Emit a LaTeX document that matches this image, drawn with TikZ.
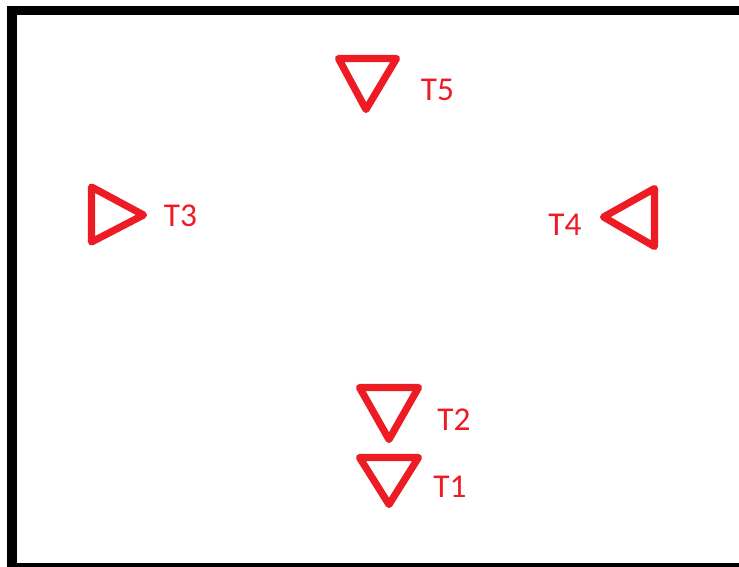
\documentclass[tikz,border=0pt]{standalone}
\usepackage{fontspec}
\setmainfont{Carlito}
\definecolor{pred}{HTML}{ED1C24}
\begin{document}
\begin{tikzpicture}[x=0.75pt,y=-0.75pt,
  tri/.style={draw=pred,line width=5.4pt,line join=round,line cap=round},
  lbl/.style={text=pred,font=\fontsize{25}{25}\selectfont,inner sep=0pt,anchor=center},
  frame/.style={draw=black,line width=7pt}]
\useasboundingbox (0,0) rectangle (739,567);
\fill[white] (0,0) rectangle (739,567);
\begin{scope}
\clip (0,0) rectangle (739,567);
\draw[frame] (12,10.5) rectangle (744,567.5);
\end{scope}
% T5
\draw[tri] (338.5,58.5) -- (396.5,58.5) -- (366,109.5) -- cycle;
\node[lbl] (t5) at (437.5,90) {T5};
% T3
\draw[tri] (91.5,187) -- (143.5,215) -- (91.5,242) -- cycle;
\node[lbl] (t3) at (180.5,215.5) {T3};
% T4
\draw[tri] (654.5,188.5) -- (603.5,217) -- (654.5,246.5) -- cycle;
\node[lbl] (t4) at (565,224.5) {T4};
% T2
\draw[tri] (359.5,387.5) -- (418.5,387.5) -- (389,439.5) -- cycle;
\node[lbl] (t2) at (454,420) {T2};
% T1
\draw[tri] (359.5,457.5) -- (418.5,457.5) -- (389,504.5) -- cycle;
\node[lbl] (t1) at (450,487) {T1};
\end{tikzpicture}
\end{document}
